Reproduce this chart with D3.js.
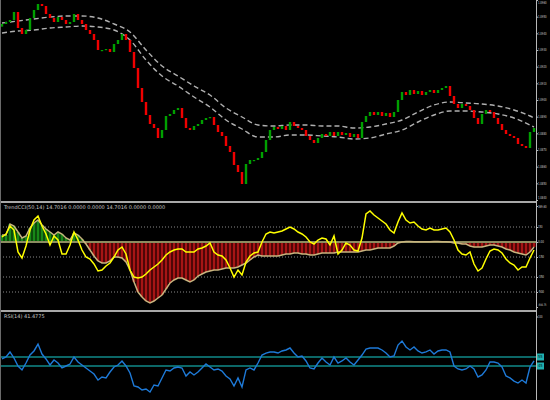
<!DOCTYPE html>
<html><head><meta charset="utf-8">
<script src="https://cdn.jsdelivr.net/npm/d3@7"></script>
<style>html,body{margin:0;padding:0;background:#000;overflow:hidden}</style>
</head><body><svg id="c" width="550" height="400"></svg>
<script>
// ---- data ----
const firstOpen = 1.09440;
const closes = [1.09456,1.09468,1.09480,1.09528,1.09432,1.09396,1.09420,1.09492,1.09540,1.09576,
1.09564,1.09516,1.09492,1.09468,1.09498,1.09480,1.09456,1.09468,1.09516,1.09480,
1.09456,1.09420,1.09396,1.09360,1.09300,1.09300,1.09306,1.09288,1.09336,1.09360,
1.09396,1.09360,1.09288,1.09192,1.09072,1.08988,1.08910,1.08856,1.08832,1.08772,
1.08820,1.08904,1.08916,1.08940,1.08952,1.08892,1.08832,1.08820,1.08844,1.08856,
1.08880,1.08892,1.08898,1.08850,1.08808,1.08784,1.08724,1.08688,1.08610,1.08568,
1.08496,1.08616,1.08640,1.08640,1.08652,1.08688,1.08760,1.08820,1.08838,1.08826,
1.08844,1.08820,1.08868,1.08844,1.08832,1.08820,1.08784,1.08760,1.08742,1.08772,
1.08796,1.08784,1.08808,1.08784,1.08808,1.08790,1.08802,1.08778,1.08796,1.08772,
1.08868,1.08904,1.08928,1.08910,1.08928,1.08904,1.08922,1.08898,1.08928,1.09000,
1.09048,1.09030,1.09060,1.09036,1.09054,1.09030,1.09048,1.09060,1.09042,1.09060,
1.09072,1.09084,1.09024,1.08976,1.08952,1.08976,1.08964,1.08940,1.08892,1.08856,
1.08916,1.08940,1.08928,1.08892,1.08856,1.08820,1.08796,1.08784,1.08772,1.08736,
1.08724,1.08712,1.08808,1.08832];

const bandUpper = [1.09462,1.09474,1.09486,1.09498,1.09504,1.09504,1.09492,1.09456,1.09408,1.09300,
1.09204,1.09144,1.09084,1.09030,1.08952,1.08898,1.08850,1.08844,1.08850,1.08850,
1.08844,1.08844,1.08832,1.08838,1.08856,1.08880,1.08928,1.08970,1.08988,1.08982,
1.08976,1.08964,1.08940,1.08904,1.08892];
const bandLower = [1.09402,1.09414,1.09420,1.09432,1.09438,1.09444,1.09438,1.09420,1.09360,1.09240,
1.09144,1.09084,1.09018,1.08958,1.08880,1.08826,1.08778,1.08778,1.08790,1.08790,
1.08784,1.08778,1.08766,1.08772,1.08796,1.08820,1.08868,1.08910,1.08934,1.08934,
1.08928,1.08916,1.08892,1.08850,1.08838];

const cciFast = [50,80,160,120,-100,-160,-40,120,220,260,
160,80,-30,60,20,-120,-120,-30,100,20,
-80,-150,-170,-220,-290,-280,-240,-210,-150,-80,
-50,-120,-280,-350,-360,-350,-320,-280,-250,-220,
-180,-130,-100,-80,-70,-70,-100,-100,-100,-70,
-60,-40,-10,-100,-130,-140,-180,-260,-350,-280,
-330,-200,-140,-110,-100,0,80,100,90,100,
110,130,150,130,100,80,50,0,-20,20,
40,30,-30,60,-120,-80,-10,-30,-80,-90,
40,280,310,270,240,210,180,120,90,200,
290,220,190,200,160,130,120,140,120,120,
130,140,100,20,-80,-120,-130,-100,-220,-290,
-260,-170,-90,-70,-80,-110,-170,-210,-230,-280,
-250,-250,-160,-80];
const cciTrend = [70,70,180,160,100,40,60,140,190,220,
170,130,100,70,100,80,40,20,90,70,
30,-20,-80,-140,-190,-210,-210,-190,-150,-150,
-160,-200,-280,-400,-500,-550,-590,-610,-590,-560,
-530,-470,-410,-380,-360,-360,-380,-400,-380,-340,
-320,-300,-290,-280,-280,-270,-260,-260,-260,-250,
-230,-210,-180,-150,-130,-140,-140,-140,-140,-140,
-130,-120,-120,-110,-110,-120,-120,-130,-130,-120,
-110,-110,-110,-110,-100,-100,-100,-100,-100,-100,
-90,-80,-80,-70,-60,-60,-60,-60,-40,-10,
0,5,5,3,3,2,2,3,5,5,
3,2,0,-10,-10,-20,-20,-40,-50,-50,
-50,-40,-30,-30,-40,-50,-70,-80,-100,-110,
-120,-130,-100,-50];
const cciLevels = [150,-150,-350,-500];
const cciTicks = [360,150,0,-150,-350,-500,-650];
const cciTickLabels = ["369.60","150","0.00","-150","-350","-500","-684.75"];

const rsi = [52.8,55.0,60.6,53.9,45.0,40.6,48.3,57.2,61.7,69.4,
58.3,52.8,46.1,51.7,48.3,42.8,45.0,47.2,55.0,49.4,
46.1,42.8,39.4,36.1,29.4,32.8,31.7,38.3,43.9,46.1,
50.6,45.0,37.2,22.8,21.7,18.3,19.4,16.1,23.9,22.8,
31.7,40.6,39.4,42.8,43.9,42.8,33.9,38.3,35.0,38.3,
42.8,47.2,43.9,40.6,41.7,39.4,33.9,30.6,22.8,31.7,
21.7,40.6,42.8,40.6,48.3,57.2,59.4,60.6,60.6,59.4,
61.7,62.8,65.0,59.4,55.0,56.1,50.6,42.8,41.7,48.3,
53.9,49.4,46.1,55.0,48.3,50.6,53.9,49.4,46.1,51.7,
57.2,63.9,65.0,65.0,65.0,62.8,59.4,55.0,56.1,68.3,
72.8,66.1,62.8,66.1,61.7,59.4,60.6,62.8,58.3,61.7,
62.8,62.8,60.6,45.0,41.7,40.6,41.7,45.0,41.7,32.8,
35.0,40.6,49.4,49.4,48.3,43.9,33.9,31.7,28.3,26.1,
29.4,26.1,43.9,50.6];
const rsiLevels = [55,45];
const rsiTicks = [100];

const priceTicks = [1.0960,1.0950,1.0940,1.0930,1.0920,1.0910,1.0900,1.0890,1.0880,1.0870,1.0860,1.0850,1.0840];
const cciLabel = "TrendCCI(50,14) 14.7016 0.0000 0.0000 14.7016 0.0000 0.0000";
const rsiLabel = "RSI(14) 41.4775";

// ---- drawing ----
const svg = d3.select("#c");
svg.append("rect").attr("width",550).attr("height",400).attr("fill","#000");
const PR = 536;
const font = "'Liberation Sans Narrow', 'DejaVu Sans Condensed', sans-serif";
const x = d3.scaleLinear().domain([0, 133]).range([2, 534]);
const yP = d3.scaleLinear().domain([1.0960, 1.0960 - 0.00006*201]).range([0, 201]);
const yC = d3.scaleLinear().domain([-680, 370]).range([310, 205]);
const yR = d3.scaleLinear().domain([0, 100]).range([406.5, 316.5]);

const defs = svg.append("defs");
function clip(id, y0, h){ defs.append("clipPath").attr("id",id).append("rect").attr("x",0).attr("y",y0).attr("width",PR).attr("height",h); }
clip("c1",0,201); clip("c2",204,106); clip("c3",313,87);

// main panel
const g1 = svg.append("g").attr("clip-path","url(#c1)");
const bandBars = d3.range(0,133,4).concat([133]);
const bandLine = d3.line().x((d,k)=>x(bandBars[k])).y(d=>yP(d)).curve(d3.curveMonotoneX);
[bandUpper, bandLower].forEach(b=>{
  g1.append("path").attr("d",bandLine(b)).attr("fill","none")
    .attr("stroke","#b0b0b0").attr("stroke-width",1.4).attr("stroke-dasharray","5,3");
});
g1.selectAll("rect.cd").data(closes).enter().append("rect").attr("class","cd")
  .each(function(c,i){
    const o = i ? closes[i-1] : firstOpen;
    const top = yP(Math.max(o,c)), bot = yP(Math.min(o,c));
    d3.select(this).attr("x", x(i)-1.2).attr("width",2.4)
      .attr("y", top).attr("height", Math.max(1.2, bot-top))
      .attr("fill", c >= o ? "#00a000" : "#f00000");
  });

// panel 2: TrendCCI
const g2 = svg.append("g").attr("clip-path","url(#c2)");
cciLevels.forEach(l=>{
  g2.append("line").attr("x1",0).attr("x2",PR).attr("y1",yC(l)).attr("y2",yC(l))
    .attr("stroke","#8a8a8a").attr("stroke-width",1).attr("stroke-dasharray","1,2");
});
cciTrend.forEach((v,i)=>{
  const pos = v >= 0;
  const y0 = yC(0), y1 = yC(v);
  g2.append("rect").attr("x",x(i)-2).attr("width",4)
    .attr("y",Math.min(y0,y1)).attr("height",Math.abs(y1-y0))
    .attr("fill", pos ? "#0b4a0b" : "#4e0606");
  g2.append("rect").attr("x",x(i)-0.6).attr("width",1.2)
    .attr("y",Math.min(y0,y1)).attr("height",Math.abs(y1-y0))
    .attr("fill", pos ? "#22b022" : "#e02020");
});
g2.append("line").attr("x1",0).attr("x2",PR).attr("y1",yC(0)).attr("y2",yC(0))
  .attr("stroke","#8c8c60").attr("stroke-width",2);
const lC = d3.line().x((d,i)=>x(i)).y(d=>yC(d));
g2.append("path").attr("d",lC(cciTrend)).attr("fill","none").attr("stroke","#c8b47e").attr("stroke-width",1.5);
g2.append("path").attr("d",lC(cciFast)).attr("fill","none").attr("stroke","#ffff00").attr("stroke-width",1.5);

// panel 3: RSI
const g3 = svg.append("g").attr("clip-path","url(#c3)");
rsiLevels.forEach(l=>{
  g3.append("line").attr("x1",0).attr("x2",PR).attr("y1",yR(l)).attr("y2",yR(l))
    .attr("stroke","#108a8a").attr("stroke-width",1.6);
});
const lR = d3.line().x((d,i)=>x(i)).y(d=>yR(d));
g3.append("path").attr("d",lR(rsi)).attr("fill","none").attr("stroke","#1e7ad8").attr("stroke-width",1.4);

// frames / separators
svg.append("rect").attr("x",0).attr("y",201).attr("width",PR).attr("height",2).attr("fill","#a8a8a8");
svg.append("rect").attr("x",0).attr("y",310).attr("width",PR).attr("height",2).attr("fill","#a8a8a8");
svg.append("line").attr("x1",0.5).attr("x2",0.5).attr("y1",0).attr("y2",400).attr("stroke","#6a6a6a");
svg.append("line").attr("x1",PR+0.5).attr("x2",PR+0.5).attr("y1",0).attr("y2",400).attr("stroke","#b8b8b8");

// right-side scale labels
function axisWithLabels(scale, values, labels, lo, hi){
  const g = svg.append("g").attr("transform",`translate(${PR},0)`)
    .call(d3.axisRight(scale).tickValues(values).tickSize(2).tickFormat(""));
  g.select(".domain").remove();
  g.selectAll(".tick line").attr("stroke","#b8b8b8");
  values.forEach((v,i)=>{
    const yy = Math.max(lo, Math.min(hi, scale(v)));
    const t = labels[i];
    svg.append("text").attr("x",PR+2).attr("y",yy).attr("dy","0.35em")
      .attr("font-size", t.length > 6 ? "3.4px" : "4px").attr("font-family",font).attr("fill","#d0d0d0")
      .attr("textLength", Math.min(8.5, t.length*1.5)).attr("lengthAdjust","spacingAndGlyphs")
      .text(t);
  });
}
axisWithLabels(yP, priceTicks, priceTicks.map(d3.format(".4f")), 3, 198);
axisWithLabels(yC, cciTicks, cciTickLabels, 207, 305);
axisWithLabels(yR, rsiTicks, rsiTicks.map(String), 316, 398);
rsiLevels.forEach(l=>{
  svg.append("rect").attr("x",PR+1).attr("y",yR(l)-3.5).attr("width",7).attr("height",7).attr("fill","#20b0b0");
  svg.append("text").attr("x",PR+2).attr("y",yR(l)).attr("dy","0.35em").attr("font-size","4px").attr("font-family",font)
    .attr("fill","#002020").text(l);
});

// panel labels
svg.append("text").attr("x",4).attr("y",209).attr("font-size","5px").attr("font-family","DejaVu Sans, sans-serif").attr("fill","#c8c8c8").text(cciLabel);
svg.append("text").attr("x",4).attr("y",318).attr("font-size","5px").attr("font-family","DejaVu Sans, sans-serif").attr("fill","#c8c8c8").text(rsiLabel);
</script>
</body></html>
